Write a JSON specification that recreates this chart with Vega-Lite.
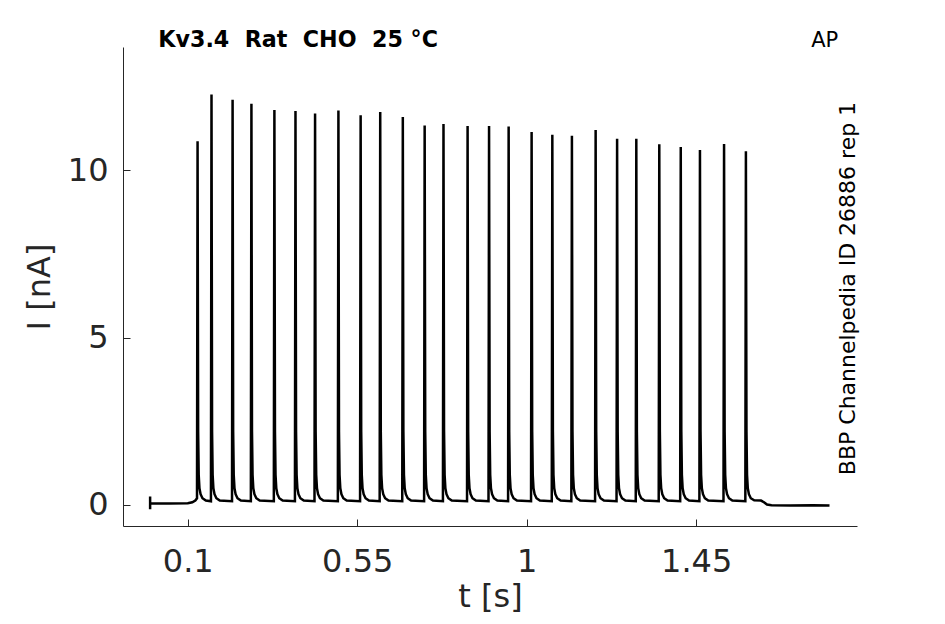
{
  "$schema": "https://vega.github.io/schema/vega-lite/v6.json",
  "width": 734,
  "height": 479,
  "autosize": "none",
  "padding": {"left": 123, "top": 47, "right": 88, "bottom": 98},
  "background": "white",
  "config": {
    "view": {"stroke": null},
    "font": "DejaVu Sans",
    "axis": {
      "grid": false,
      "domainColor": "#262626",
      "domainWidth": 1,
      "tickColor": "#262626",
      "tickSize": -7,
      "tickWidth": 1,
      "labelColor": "#262626",
      "labelFont": "DejaVu Sans",
      "labelFontSize": 32,
      "titleColor": "#262626",
      "titleFont": "DejaVu Sans",
      "titleFontSize": 32,
      "titleFontWeight": "normal"
    }
  },
  "layer": [
    {
      "data": {
        "values": [
          {"t": 0.0, "i": 0.25}, {"t": 0.0, "i": -0.13}, {"t": 0.0, "i": 0.04},
          {"t": 0.05, "i": 0.04}, {"t": 0.1, "i": 0.05}, {"t": 0.112, "i": 0.08},
          {"t": 0.12, "i": 0.13}, {"t": 0.1245, "i": 0.2},
          {"t": 0.126, "i": 10.87}, {"t": 0.1275, "i": 2.2}, {"t": 0.129, "i": 0.9}, {"t": 0.131, "i": 0.5}, {"t": 0.134, "i": 0.32}, {"t": 0.139, "i": 0.2}, {"t": 0.148, "i": 0.13},
          {"t": 0.1615, "i": 0.11}, {"t": 0.163, "i": 12.27}, {"t": 0.1645, "i": 2.2}, {"t": 0.166, "i": 0.9}, {"t": 0.168, "i": 0.5}, {"t": 0.171, "i": 0.32}, {"t": 0.176, "i": 0.2}, {"t": 0.185, "i": 0.13},
          {"t": 0.2175, "i": 0.11}, {"t": 0.219, "i": 12.11}, {"t": 0.2205, "i": 2.2}, {"t": 0.222, "i": 0.9}, {"t": 0.224, "i": 0.5}, {"t": 0.227, "i": 0.32}, {"t": 0.232, "i": 0.2}, {"t": 0.241, "i": 0.13},
          {"t": 0.2675, "i": 0.11}, {"t": 0.269, "i": 11.99}, {"t": 0.2705, "i": 2.2}, {"t": 0.272, "i": 0.9}, {"t": 0.274, "i": 0.5}, {"t": 0.277, "i": 0.32}, {"t": 0.282, "i": 0.2}, {"t": 0.291, "i": 0.13},
          {"t": 0.3285, "i": 0.11}, {"t": 0.33, "i": 11.81}, {"t": 0.3315, "i": 2.2}, {"t": 0.333, "i": 0.9}, {"t": 0.335, "i": 0.5}, {"t": 0.338, "i": 0.32}, {"t": 0.343, "i": 0.2}, {"t": 0.352, "i": 0.13},
          {"t": 0.3845, "i": 0.11}, {"t": 0.386, "i": 11.78}, {"t": 0.3875, "i": 2.2}, {"t": 0.389, "i": 0.9}, {"t": 0.391, "i": 0.5}, {"t": 0.394, "i": 0.32}, {"t": 0.399, "i": 0.2}, {"t": 0.408, "i": 0.13},
          {"t": 0.4365, "i": 0.11}, {"t": 0.438, "i": 11.7}, {"t": 0.4395, "i": 2.2}, {"t": 0.441, "i": 0.9}, {"t": 0.443, "i": 0.5}, {"t": 0.446, "i": 0.32}, {"t": 0.451, "i": 0.2}, {"t": 0.46, "i": 0.13},
          {"t": 0.4985, "i": 0.11}, {"t": 0.5, "i": 11.79}, {"t": 0.5015, "i": 2.2}, {"t": 0.503, "i": 0.9}, {"t": 0.505, "i": 0.5}, {"t": 0.508, "i": 0.32}, {"t": 0.513, "i": 0.2}, {"t": 0.522, "i": 0.13},
          {"t": 0.5575, "i": 0.11}, {"t": 0.559, "i": 11.65}, {"t": 0.5605, "i": 2.2}, {"t": 0.562, "i": 0.9}, {"t": 0.564, "i": 0.5}, {"t": 0.567, "i": 0.32}, {"t": 0.572, "i": 0.2}, {"t": 0.581, "i": 0.13},
          {"t": 0.6095, "i": 0.11}, {"t": 0.611, "i": 11.75}, {"t": 0.6125, "i": 2.2}, {"t": 0.614, "i": 0.9}, {"t": 0.616, "i": 0.5}, {"t": 0.619, "i": 0.32}, {"t": 0.624, "i": 0.2}, {"t": 0.633, "i": 0.13},
          {"t": 0.6695, "i": 0.11}, {"t": 0.671, "i": 11.6}, {"t": 0.6725, "i": 2.2}, {"t": 0.674, "i": 0.9}, {"t": 0.676, "i": 0.5}, {"t": 0.679, "i": 0.32}, {"t": 0.684, "i": 0.2}, {"t": 0.693, "i": 0.13},
          {"t": 0.7275, "i": 0.11}, {"t": 0.729, "i": 11.34}, {"t": 0.7305, "i": 2.2}, {"t": 0.732, "i": 0.9}, {"t": 0.734, "i": 0.5}, {"t": 0.737, "i": 0.32}, {"t": 0.742, "i": 0.2}, {"t": 0.751, "i": 0.13},
          {"t": 0.7775, "i": 0.11}, {"t": 0.779, "i": 11.39}, {"t": 0.7805, "i": 2.2}, {"t": 0.782, "i": 0.9}, {"t": 0.784, "i": 0.5}, {"t": 0.787, "i": 0.32}, {"t": 0.792, "i": 0.2}, {"t": 0.801, "i": 0.13},
          {"t": 0.8415, "i": 0.11}, {"t": 0.843, "i": 11.33}, {"t": 0.8445, "i": 2.2}, {"t": 0.846, "i": 0.9}, {"t": 0.848, "i": 0.5}, {"t": 0.851, "i": 0.32}, {"t": 0.856, "i": 0.2}, {"t": 0.865, "i": 0.13},
          {"t": 0.8985, "i": 0.11}, {"t": 0.9, "i": 11.33}, {"t": 0.9015, "i": 2.2}, {"t": 0.903, "i": 0.9}, {"t": 0.905, "i": 0.5}, {"t": 0.908, "i": 0.32}, {"t": 0.913, "i": 0.2}, {"t": 0.922, "i": 0.13},
          {"t": 0.9505, "i": 0.11}, {"t": 0.952, "i": 11.31}, {"t": 0.9535, "i": 2.2}, {"t": 0.955, "i": 0.9}, {"t": 0.957, "i": 0.5}, {"t": 0.96, "i": 0.32}, {"t": 0.965, "i": 0.2}, {"t": 0.974, "i": 0.13},
          {"t": 1.0115, "i": 0.11}, {"t": 1.013, "i": 11.15}, {"t": 1.0145, "i": 2.2}, {"t": 1.016, "i": 0.9}, {"t": 1.018, "i": 0.5}, {"t": 1.021, "i": 0.32}, {"t": 1.026, "i": 0.2}, {"t": 1.035, "i": 0.13},
          {"t": 1.0665, "i": 0.11}, {"t": 1.068, "i": 11.07}, {"t": 1.0695, "i": 2.2}, {"t": 1.071, "i": 0.9}, {"t": 1.073, "i": 0.5}, {"t": 1.076, "i": 0.32}, {"t": 1.081, "i": 0.2}, {"t": 1.09, "i": 0.13},
          {"t": 1.1185, "i": 0.11}, {"t": 1.12, "i": 11.04}, {"t": 1.1215, "i": 2.2}, {"t": 1.123, "i": 0.9}, {"t": 1.125, "i": 0.5}, {"t": 1.128, "i": 0.32}, {"t": 1.133, "i": 0.2}, {"t": 1.142, "i": 0.13},
          {"t": 1.1815, "i": 0.11}, {"t": 1.183, "i": 11.21}, {"t": 1.1845, "i": 2.2}, {"t": 1.186, "i": 0.9}, {"t": 1.188, "i": 0.5}, {"t": 1.191, "i": 0.32}, {"t": 1.196, "i": 0.2}, {"t": 1.205, "i": 0.13},
          {"t": 1.2385, "i": 0.11}, {"t": 1.24, "i": 10.95}, {"t": 1.2415, "i": 2.2}, {"t": 1.243, "i": 0.9}, {"t": 1.245, "i": 0.5}, {"t": 1.248, "i": 0.32}, {"t": 1.253, "i": 0.2}, {"t": 1.262, "i": 0.13},
          {"t": 1.2895, "i": 0.11}, {"t": 1.291, "i": 10.95}, {"t": 1.2925, "i": 2.2}, {"t": 1.294, "i": 0.9}, {"t": 1.296, "i": 0.5}, {"t": 1.299, "i": 0.32}, {"t": 1.304, "i": 0.2}, {"t": 1.313, "i": 0.13},
          {"t": 1.3505, "i": 0.11}, {"t": 1.352, "i": 10.78}, {"t": 1.3535, "i": 2.2}, {"t": 1.355, "i": 0.9}, {"t": 1.357, "i": 0.5}, {"t": 1.36, "i": 0.32}, {"t": 1.365, "i": 0.2}, {"t": 1.374, "i": 0.13},
          {"t": 1.4075, "i": 0.11}, {"t": 1.409, "i": 10.7}, {"t": 1.4105, "i": 2.2}, {"t": 1.412, "i": 0.9}, {"t": 1.414, "i": 0.5}, {"t": 1.417, "i": 0.32}, {"t": 1.422, "i": 0.2}, {"t": 1.431, "i": 0.13},
          {"t": 1.4585, "i": 0.11}, {"t": 1.46, "i": 10.61}, {"t": 1.4615, "i": 2.2}, {"t": 1.463, "i": 0.9}, {"t": 1.465, "i": 0.5}, {"t": 1.468, "i": 0.32}, {"t": 1.473, "i": 0.2}, {"t": 1.482, "i": 0.13},
          {"t": 1.5225, "i": 0.11}, {"t": 1.524, "i": 10.79}, {"t": 1.5255, "i": 2.2}, {"t": 1.527, "i": 0.9}, {"t": 1.529, "i": 0.5}, {"t": 1.532, "i": 0.32}, {"t": 1.537, "i": 0.2}, {"t": 1.546, "i": 0.13},
          {"t": 1.5805, "i": 0.11}, {"t": 1.582, "i": 10.57}, {"t": 1.5835, "i": 2.2}, {"t": 1.585, "i": 0.9}, {"t": 1.587, "i": 0.5}, {"t": 1.59, "i": 0.32}, {"t": 1.595, "i": 0.2}, {"t": 1.604, "i": 0.14},
          {"t": 1.622, "i": 0.13}, {"t": 1.63, "i": 0.08}, {"t": 1.638, "i": 0.01}, {"t": 1.65, "i": -0.01},
          {"t": 1.7, "i": -0.02}, {"t": 1.76, "i": -0.01}, {"t": 1.804, "i": -0.02}
        ]
      },
      "mark": {"type": "line", "color": "black", "strokeWidth": 2.5, "clip": true},
      "encoding": {
        "x": {
          "field": "t",
          "type": "quantitative",
          "scale": {"domain": [-0.072, 1.877], "nice": false, "zero": false},
          "axis": {
            "title": "t [s]",
            "values": [0.1, 0.55, 1, 1.45],
            "format": ".3~g",
            "labelPadding": 27,
            "titlePadding": 4
          }
        },
        "y": {
          "field": "i",
          "type": "quantitative",
          "scale": {"domain": [-0.63, 13.69], "nice": false, "zero": false},
          "axis": {
            "title": "I [nA]",
            "values": [0, 5, 10],
            "format": "d",
            "labelPadding": 22,
            "titlePadding": 11
          }
        },
        "order": {"value": null}
      }
    },
    {
      "data": {"values": [{"label": "Kv3.4\u00a0\u00a0Rat\u00a0\u00a0CHO\u00a0\u00a025\u00a0°C"}]},
      "mark": {"type": "text", "align": "left", "baseline": "alphabetic", "font": "DejaVu Sans", "fontSize": 22.2, "fontWeight": "bold", "color": "black"},
      "encoding": {
        "x": {"datum": 0.0217},
        "y": {"datum": 13.69},
        "text": {"field": "label"}
      }
    },
    {
      "data": {"values": [{"label": "AP"}]},
      "mark": {"type": "text", "align": "right", "baseline": "alphabetic", "font": "DejaVu Sans", "fontSize": 21, "color": "black"},
      "encoding": {
        "x": {"datum": 1.827},
        "y": {"datum": 13.69},
        "text": {"field": "label"}
      }
    },
    {
      "data": {"values": [{"label": "BBP Channelpedia ID 26886 rep 1"}]},
      "mark": {"type": "text", "align": "center", "baseline": "alphabetic", "angle": 270, "font": "DejaVu Sans", "fontSize": 22, "color": "black"},
      "encoding": {
        "x": {"datum": 1.872},
        "y": {"datum": 6.47},
        "text": {"field": "label"}
      }
    }
  ]
}
